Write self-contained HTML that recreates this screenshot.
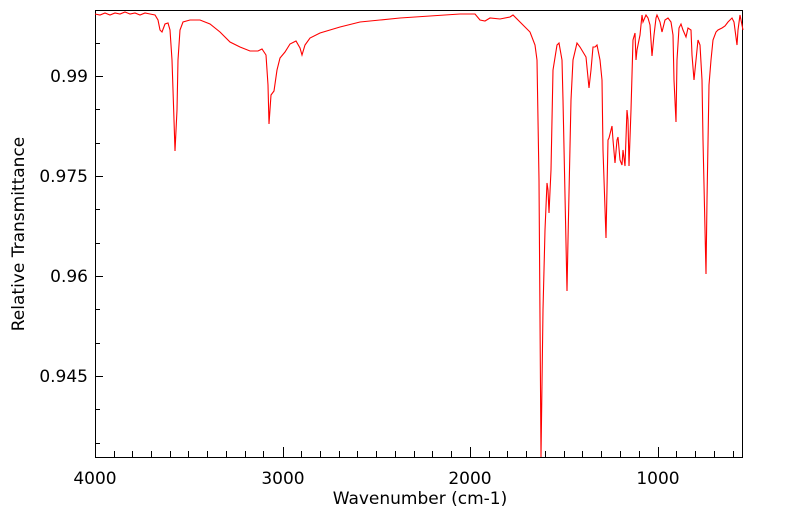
<!DOCTYPE html>
<html><head><style>body{margin:0;background:#fff}svg{display:block;font-family:"DejaVu Sans","Liberation Sans",sans-serif}</style></head>
<body>
<svg width="799" height="516" viewBox="0 0 799 516">
<rect x="95.5" y="10.5" width="647" height="447" fill="#fff" stroke="#000" stroke-width="1"/>
<g stroke="#000" stroke-width="1">
<line x1="95" y1="76.5" x2="103" y2="76.5"/><line x1="95" y1="176.5" x2="103" y2="176.5"/><line x1="95" y1="276.5" x2="103" y2="276.5"/><line x1="95" y1="376.5" x2="103" y2="376.5"/>
<line x1="95" y1="43.5" x2="100" y2="43.5"/><line x1="95" y1="109.5" x2="100" y2="109.5"/><line x1="95" y1="143.5" x2="100" y2="143.5"/><line x1="95" y1="209.5" x2="100" y2="209.5"/><line x1="95" y1="243.5" x2="100" y2="243.5"/><line x1="95" y1="309.5" x2="100" y2="309.5"/><line x1="95" y1="343.5" x2="100" y2="343.5"/><line x1="95" y1="409.5" x2="100" y2="409.5"/><line x1="95" y1="443.5" x2="100" y2="443.5"/>
<line x1="283.5" y1="457" x2="283.5" y2="447"/><line x1="470.5" y1="457" x2="470.5" y2="447"/><line x1="658.5" y1="457" x2="658.5" y2="447"/>
<line x1="114.5" y1="457" x2="114.5" y2="451"/><line x1="132.5" y1="457" x2="132.5" y2="451"/><line x1="151.5" y1="457" x2="151.5" y2="451"/><line x1="170.5" y1="457" x2="170.5" y2="451"/><line x1="188.5" y1="457" x2="188.5" y2="451"/><line x1="207.5" y1="457" x2="207.5" y2="451"/><line x1="226.5" y1="457" x2="226.5" y2="451"/><line x1="245.5" y1="457" x2="245.5" y2="451"/><line x1="263.5" y1="457" x2="263.5" y2="451"/>
<line x1="301.5" y1="457" x2="301.5" y2="451"/><line x1="320.5" y1="457" x2="320.5" y2="451"/><line x1="339.5" y1="457" x2="339.5" y2="451"/><line x1="357.5" y1="457" x2="357.5" y2="451"/><line x1="376.5" y1="457" x2="376.5" y2="451"/><line x1="395.5" y1="457" x2="395.5" y2="451"/><line x1="414.5" y1="457" x2="414.5" y2="451"/><line x1="432.5" y1="457" x2="432.5" y2="451"/><line x1="451.5" y1="457" x2="451.5" y2="451"/>
<line x1="489.5" y1="457" x2="489.5" y2="451"/><line x1="507.5" y1="457" x2="507.5" y2="451"/><line x1="526.5" y1="457" x2="526.5" y2="451"/><line x1="545.5" y1="457" x2="545.5" y2="451"/><line x1="564.5" y1="457" x2="564.5" y2="451"/><line x1="582.5" y1="457" x2="582.5" y2="451"/><line x1="601.5" y1="457" x2="601.5" y2="451"/><line x1="620.5" y1="457" x2="620.5" y2="451"/><line x1="639.5" y1="457" x2="639.5" y2="451"/>
<line x1="676.5" y1="457" x2="676.5" y2="451"/><line x1="695.5" y1="457" x2="695.5" y2="451"/><line x1="714.5" y1="457" x2="714.5" y2="451"/><line x1="733.5" y1="457" x2="733.5" y2="451"/>
</g>
<g font-size="17" fill="#000" text-anchor="end">
<text x="88" y="82">0.99</text><text x="88" y="182">0.975</text><text x="88" y="282">0.96</text><text x="88" y="382">0.945</text>
</g>
<g font-size="17" fill="#000" text-anchor="middle">
<text x="95" y="484">4000</text><text x="283" y="484">3000</text><text x="470" y="484">2000</text><text x="658" y="484">1000</text>
<text x="420" y="504">Wavenumber (cm-1)</text>
<text transform="translate(24,234) rotate(-90)">Relative Transmittance</text>
</g>
<polyline fill="none" stroke="#ff0000" stroke-width="1.1" points="95,14 100,15 105,13 110,15 115,13 120,14 125,12 130,14 135,13 140,15 145,13 150,14 155,15 158,20 160,30 162,32 165,24 168,23 170,30 172,60 174,120 175,151 177,110 178,60 180,30 183,22 190,20 200,20 210,24 220,32 230,42 240,47 250,51 258,51 262,49 266,55 268,85 269,124 271,95 274,91 277,70 280,58 285,52 290,44 296,41 300,48 302,55 305,45 310,38 320,33 340,27 360,22 380,20 400,18 430,16 460,14 475,14 480,20 485,21 490,18 500,19 510,17 513,15 520,22 530,32 535,45 537,60 539,180 541,457 543,310 545,230 547,183 548,190 549,213 551,170 553,70 557,45 559,43 562,60 563,100 567,291 568,240 571,100 573,60 577,43 580,47 583,52 586,57 589,88 591,70 593,47 595,47 597,45 600,60 602,80 603,150 606,238 608,140 609,138 611,130 612,126 613,140 615,163 617,140 618,137 620,160 622,165 623,150 625,166 627,110 628,120 629,166 631,110 633,40 635,33 636,60 637,50 640,35 642,15 643,22 646,15 648,18 650,25 652,56 654,35 656,18 657,15 660,22 662,32 665,20 668,18 671,22 673,35 674,80 676,122 677,60 679,28 681,24 683,30 686,37 688,28 691,30 692,55 694,80 696,60 698,40 700,45 702,80 703,140 706,274 707,200 709,85 711,60 713,40 716,32 718,30 722,28 725,26 728,22 732,18 734,22 737,45 738,30 740,15 743,30"/>
</svg>
</body></html>
